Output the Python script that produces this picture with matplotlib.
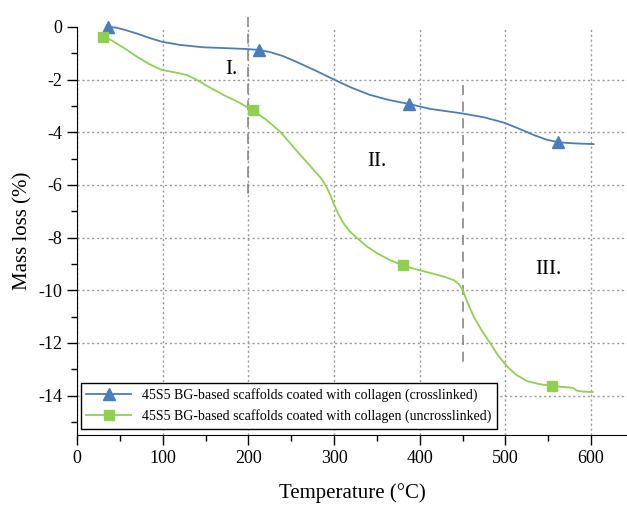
import matplotlib
matplotlib.use("Agg")
import matplotlib.pyplot as plt
from matplotlib.ticker import MultipleLocator

plt.rcParams['font.family'] = ['Liberation Serif', 'DejaVu Serif']
plt.rcParams['axes.unicode_minus'] = False

# Crosslinked series (curve points)
temp_cross = [36.6, 45, 55, 70, 85, 99, 120, 147, 179, 200, 212, 225, 240, 256, 278, 299, 320, 342, 365, 387,
              412, 449, 475, 498, 515, 533, 548, 562, 580, 603]
mass_cross = [0.0, -0.02, -0.10, -0.25, -0.42, -0.56, -0.68, -0.77, -0.81, -0.84, -0.87, -0.95, -1.10, -1.32, -1.65,
              -1.98, -2.30, -2.58, -2.78, -2.92, -3.11, -3.28, -3.43, -3.63, -3.85, -4.10, -4.28, -4.38, -4.42, -4.45]
marker_idx_cross = [0, 10, 19, 27]

# Uncrosslinked series
temp_unc = [30, 40, 55, 70, 85, 99, 115, 128, 140, 155, 171, 190, 205, 220, 237, 255, 276, 285, 291, 296, 300, 305,
            311, 318, 327, 338, 350, 365, 380, 395, 412, 430, 440, 446, 450, 455, 463, 472, 482, 492, 502, 512, 525,
            540, 555, 579, 583, 590, 602]
mass_unc = [-0.37, -0.50, -0.80, -1.13, -1.42, -1.63, -1.73, -1.82, -2.01, -2.30, -2.58, -2.88, -3.17, -3.50, -3.97,
            -4.65, -5.42, -5.75, -6.06, -6.40, -6.75, -7.10, -7.45, -7.75, -8.02, -8.33, -8.59, -8.85, -9.05, -9.20,
            -9.34, -9.50, -9.62, -9.78, -9.97, -10.40, -11.00, -11.50, -12.00, -12.50, -12.89, -13.20, -13.45, -13.57,
            -13.64, -13.71, -13.81, -13.85, -13.87]
marker_idx_unc = [0, 12, 28, 44]

label_cross = "45S5 BG-based scaffolds coated with collagen (crosslinked)"
label_unc = "45S5 BG-based scaffolds coated with collagen (uncrosslinked)"

region_x = [200, 450]
region_y = [(0.38, -6.4), (-2.2, -12.85)]
region_labels = ["I.", "II.", "III."]
region_label_pos = [(180, -1.6), (350, -5.1), (550, -9.2)]

blue = '#4a7ebb'
green = '#8fd14f'

fig = plt.figure(figsize=(6.27, 5.05), dpi=100)
ax = fig.add_axes([77/627, 1-435/505, 1-77/627, (435-27)/505])
ax.set_xlim(0, 642)
ax.set_ylim(-15.5, 0)

ax.plot(temp_cross, mass_cross, color=blue, lw=1.3, marker='^', ms=9, markevery=marker_idx_cross,
        label=label_cross, clip_on=False, zorder=4, solid_joinstyle='round')
ax.plot(temp_unc, mass_unc, color=green, lw=1.3, marker='s', ms=7, markevery=marker_idx_unc,
        label=label_unc, clip_on=False, zorder=4, solid_joinstyle='round')

for x, (y0, y1) in zip(region_x, region_y):
    ax.plot([x, x], [y0, y1], color='#888888', lw=1.2, ls=(0, (6, 4)), clip_on=False, zorder=3)

for lab, (x, y) in zip(region_labels, region_label_pos):
    ax.text(x, y, lab, fontsize=15, ha='center', va='center')

ax.xaxis.set_major_locator(MultipleLocator(100))
ax.xaxis.set_minor_locator(MultipleLocator(50))
ax.yaxis.set_major_locator(MultipleLocator(2))
ax.yaxis.set_minor_locator(MultipleLocator(1))
ax.tick_params(which='major', direction='out', length=7, width=1, labelsize=13)
ax.tick_params(which='minor', direction='out', length=4, width=1)

ax.grid(True, which='major', ls=(0, (1.5, 2)), color='#999999', lw=1)
for line, t in zip(ax.yaxis.get_gridlines(), ax.get_yticks()):
    if abs(t) < 1e-9:
        line.set_visible(False)

ax.spines['top'].set_visible(False)
ax.spines['right'].set_visible(False)

ax.set_xlabel("Temperature (°C)", fontsize=15, labelpad=12)
ax.set_ylabel("Mass loss (%)", fontsize=15, labelpad=4)

leg = ax.legend(loc='lower left', bbox_to_anchor=(0.007, 0.015), borderaxespad=0, fancybox=False,
                edgecolor='black', framealpha=1, fontsize=10, handlelength=3.2)
leg.get_frame().set_linewidth(1)

fig.savefig("out.png", dpi=100)
